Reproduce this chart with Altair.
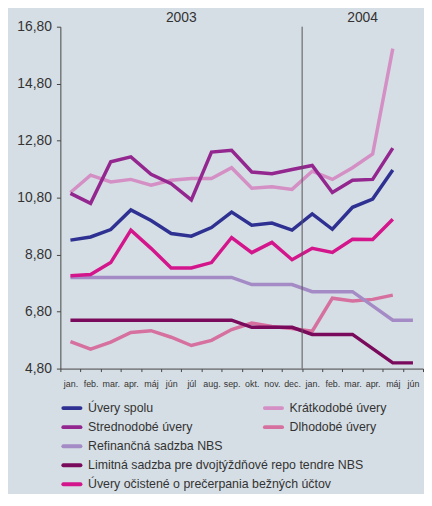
import json
import altair as alt
import pandas as pd

months = ["jan.", "feb.", "mar.", "apr.", "máj", "jún", "júl", "aug.", "sep.",
          "okt.", "nov.", "dec.", "jan.", "feb.", "mar.", "apr.", "máj", "jún"]

series_names = [
    "Úvery spolu",
    "Krátkodobé úvery",
    "Strednodobé úvery",
    "Dlhodobé úvery",
    "Refinančná sadzba NBS",
    "Limitná sadzba pre dvojtýždňové repo tendre NBS",
    "Úvery očistené o prečerpania bežných účtov",
]
series_colors = ["#2e3192", "#d48fc4", "#93278f", "#d6709f", "#a48bc6", "#7a0a5c", "#d4168c"]

uvery_spolu = [9.31, 9.42, 9.68, 10.37, 10.00, 9.54, 9.45, 9.75, 10.29, 9.83, 9.91, 9.66,
               10.23, 9.69, 10.46, 10.75, 11.77, None]
kratkodobe = [10.98, 11.59, 11.35, 11.44, 11.24, 11.41, 11.47, 11.47, 11.85, 11.13, 11.18, 11.09,
              11.73, 11.44, 11.85, 12.33, 16.03, None]
strednodobe = [10.95, 10.60, 12.06, 12.23, 11.62, 11.29, 10.72, 12.40, 12.46, 11.70, 11.64, 11.79,
               11.93, 10.98, 11.41, 11.44, 12.54, None]
dlhodobe = [5.75, 5.48, 5.73, 6.07, 6.13, 5.90, 5.61, 5.79, 6.17, 6.40, 6.28, 6.21,
            6.11, 7.27, 7.17, 7.23, 7.38, None]
refinancna = [8.00, 8.00, 8.00, 8.00, 8.00, 8.00, 8.00, 8.00, 8.00, 7.75, 7.75, 7.75,
              7.50, 7.50, 7.50, 7.00, 6.50, 6.50]
limitna = [6.50, 6.50, 6.50, 6.50, 6.50, 6.50, 6.50, 6.50, 6.50, 6.25, 6.25, 6.25,
           6.00, 6.00, 6.00, 5.50, 5.00, 5.00]
ocistene = [8.06, 8.10, 8.52, 9.66, 9.02, 8.33, 8.33, 8.52, 9.40, 8.87, 9.23, 8.62,
            9.02, 8.88, 9.34, 9.33, 10.04, None]

y_ticks = [4.8, 6.8, 8.8, 10.8, 12.8, 14.8, 16.8]
years = ["2003", "2004"]
year_start = [6, 15]      # month index where the year label sits
year_split = [12]         # first month of 2004

legend_col = [0, 1, 0, 1, 0, 0, 0]
legend_row = [0, 0, 1, 1, 2, 3, 4]

all_series = [uvery_spolu, kratkodobe, strednodobe, dlhodobe, refinancna, limitna, ocistene]
rows = []
for name, vals in zip(series_names, all_series):
    for t, v in enumerate(vals):
        if v is not None:
            rows.append({"series": name, "t": t, "value": v})
df = pd.DataFrame(rows)

FONT = "Liberation Sans"
TXT = "#333333"
W, H = 367, 346

label_expr = json.dumps(months, ensure_ascii=False) + "[datum.value]"
xscale = alt.Scale(type="band", domain=list(range(len(months))), paddingInner=0, paddingOuter=0)
yscale = alt.Scale(domain=[y_ticks[0], y_ticks[-1]], nice=False, zero=False)
cscale = alt.Scale(domain=series_names, range=series_colors)

lines = alt.Chart(df).mark_line(strokeWidth=3.5).encode(
    x=alt.X("t:O", scale=xscale, bandPosition=0.5,
            axis=alt.Axis(title=None, labelExpr=label_expr, labelAngle=0, tickBand="extent",
                          labelFontSize=9, labelFont=FONT, labelColor=TXT, tickSize=3,
                          tickColor="#444444", domainColor="#444444", labelPadding=8)),
    y=alt.Y("value:Q", scale=yscale,
            axis=alt.Axis(title=None, values=y_ticks, grid=False,
                          labelExpr="replace(format(datum.value, '.2f'), '.', ',')",
                          labelFontSize=14, labelFont=FONT, labelColor=TXT, tickSize=4,
                          tickColor="#444444", domainColor="#444444", labelPadding=5)),
    color=alt.Color("series:N", scale=cscale, legend=None),
    detail="series:N",
    order="t:O",
)

split_df = pd.DataFrame({"t": year_split, "top": [y_ticks[-1]], "bottom": [y_ticks[0]]})
divider = alt.Chart(split_df).mark_rule(color="#555555", strokeWidth=1).encode(
    x=alt.X("t:O", scale=xscale, bandPosition=0),
    y=alt.Y("top:Q", scale=yscale),
    y2="bottom:Q",
)

year_df = pd.DataFrame({"year": years, "t": year_start})
year_text = alt.Chart(year_df).mark_text(fontSize=14, font=FONT, color=TXT, baseline="middle").encode(
    x=alt.X("t:O", scale=xscale, bandPosition=0),
    y=alt.value(-9),
    text="year:N",
)

main = alt.layer(lines, divider, year_text)

# legend laid out below the axis through its own (independent) scales
leg_df = pd.DataFrame({"series": series_names, "col": legend_col, "row": legend_row})
lx = alt.Scale(domain=[0, 1], range=[3, 207])
ly = alt.Scale(domain=[0, 4], range=[H + 40, H + 117])
leg_base = alt.Chart(leg_df)
leg_sym = leg_base.mark_rule(strokeWidth=4, strokeCap="round").transform_calculate(
    col2="datum.col + 0.085"
).encode(
    x=alt.X("col:Q", scale=lx, axis=None),
    x2="col2:Q",
    y=alt.Y("row:Q", scale=ly, axis=None),
    color=alt.Color("series:N", scale=cscale, legend=None),
)
leg_txt = leg_base.mark_text(align="left", baseline="middle", dx=25, fontSize=12.5,
                             font=FONT, color=TXT).encode(
    x=alt.X("col:Q", scale=lx, axis=None),
    y=alt.Y("row:Q", scale=ly, axis=None),
    text="series:N",
)
legend = alt.layer(leg_sym, leg_txt)

chart = alt.layer(main, legend).resolve_scale(x="independent", y="independent").properties(
    width=W, height=H,
    background="#d6dee5",
    padding={"left": 8, "top": 0, "right": 0, "bottom": 0},
).configure_view(stroke=None)

chart.save("out.html", embed_options={"renderer": "svg", "actions": False})
